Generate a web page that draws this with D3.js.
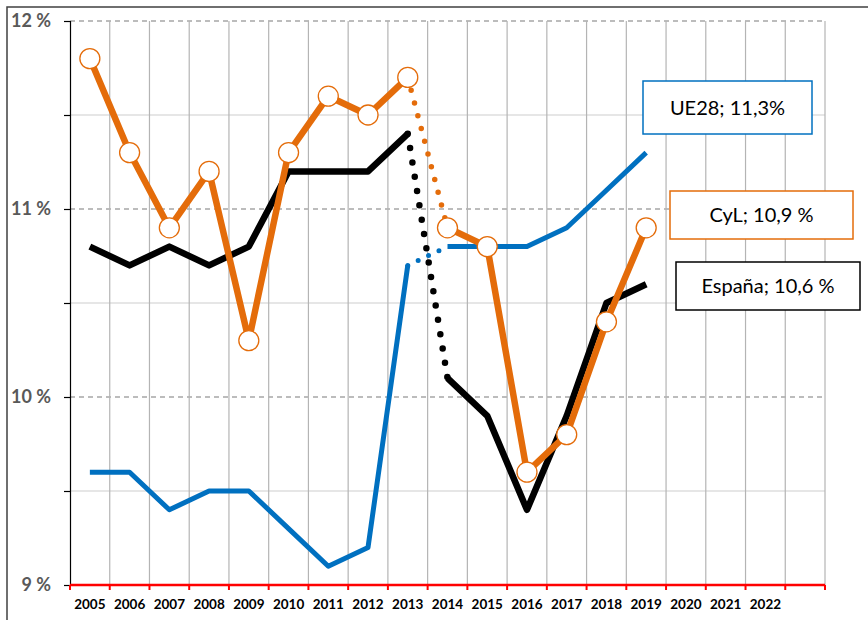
<!DOCTYPE html>
<html>
<head>
<meta charset="utf-8">
<script src="https://cdn.jsdelivr.net/npm/d3@7"></script>
<style>
  html, body { margin: 0; padding: 0; background: #fff; }
  svg { display: block; }
</style>
</head>
<body>
<div id="chart"></div>
<script>
var years = ["2005","2006","2007","2008","2009","2010","2011","2012","2013",
             "2014","2015","2016","2017","2018","2019","2020","2021","2022"];
var espana = [10.8,10.7,10.8,10.7,10.8,11.2,11.2,11.2,11.4,10.1,9.9,9.4,9.9,10.5,10.6];
var cyl    = [11.8,11.3,10.9,11.2,10.3,11.3,11.6,11.5,11.7,10.9,10.8,9.6,9.8,10.4,10.9];
var ue28   = [9.6,9.6,9.4,9.5,9.5,9.3,9.1,9.2,10.7,10.8,10.8,10.8,10.9,11.1,11.3];
var yTicks = [9,9.5,10,10.5,11,11.5,12];
var yLabels = {9:"9 %",10:"10 %",11:"11 %",12:"12 %"};
var breakAt = 8; // series change between 2013 and 2014
var legendText = ["UE28; 11,3%","CyL; 10,9 %","España; 10,6 %"];

var W = 868, H = 620;
var svg = d3.select("#chart").append("svg")
    .attr("width", W).attr("height", H);

// chart frame
svg.append("rect")
    .attr("x", 7).attr("y", 7).attr("width", 920).attr("height", 700)
    .attr("fill", "none").attr("stroke", "#404040").attr("stroke-width", 1.5);

var x = d3.scaleBand().domain(years.concat([""])).range([70, 825]).padding(0);
var y = d3.scaleLinear().domain([9, 12]).range([585, 21]);
var cx = function(i) { return x(years[i]) + x.bandwidth() / 2; };

// horizontal grid
svg.append("g").selectAll("line")
    .data(yTicks.filter(function(d) { return d > 9; }))
    .enter().append("line")
    .attr("x1", 70).attr("x2", 825)
    .attr("y1", function(d) { return y(d); })
    .attr("y2", function(d) { return y(d); })
    .attr("stroke", function(d) { return d % 1 === 0 ? "#a6a6a6" : "#dedede"; })
    .attr("stroke-width", 1.5)
    .attr("stroke-dasharray", function(d) { return d % 1 === 0 ? "5,4" : null; });

// vertical grid
var bounds = x.domain().map(function(d) { return x(d); }).concat([825]);
svg.append("g").selectAll("line")
    .data(bounds.slice(1))
    .enter().append("line")
    .attr("x1", function(d) { return d; }).attr("x2", function(d) { return d; })
    .attr("y1", 21).attr("y2", 585)
    .attr("stroke", "#b4b4b4").attr("stroke-width", 1.2);

// y axis
var yAxis = svg.append("g")
    .attr("transform", "translate(70,0)")
    .call(d3.axisLeft(y).tickValues(yTicks).tickSize(6).tickFormat(function(d) { return yLabels[d] || ""; }));
yAxis.select(".domain").attr("stroke", "#000").attr("stroke-width", 1.2);
yAxis.selectAll(".tick line").attr("stroke", "#000").attr("stroke-width", 1.2);
yAxis.selectAll(".tick text")
    .attr("x", -19)
    .style("font-family", "Lato, 'Open Sans', sans-serif")
    .style("font-weight", "bold")
    .style("font-size", "18px")
    .attr("fill", "#595959");

// x axis (red)
var xAxis = svg.append("g")
    .attr("transform", "translate(0,585)")
    .call(d3.axisBottom(x).tickSize(0).tickFormat(function(d) { return d; }));
xAxis.select(".domain").remove();
svg.append("line")
    .attr("x1", 70).attr("x2", 825).attr("y1", 585).attr("y2", 585)
    .attr("stroke", "#ff0000").attr("stroke-width", 2.5);
svg.append("g").selectAll("line")
    .data(bounds)
    .enter().append("line")
    .attr("x1", function(d) { return d; }).attr("x2", function(d) { return d; })
    .attr("y1", 585).attr("y2", 590)
    .attr("stroke", "#ff0000").attr("stroke-width", 2);
xAxis.selectAll(".tick text")
    .attr("y", 14)
    .style("font-family", "Lato, 'Open Sans', sans-serif")
    .style("font-weight", "bold")
    .style("font-size", "13.5px")
    .attr("fill", "#000");

// series
var series = [
  {values: ue28,   color: "#0070c0", width: 5,   dot: 5,   gap: 11.5},
  {values: espana, color: "#000000", width: 6.5, dot: 6.5, gap: 14.5},
  {values: cyl,    color: "#e46c0a", width: 6.5, dot: 5.5, gap: 13.2}
];
var line = d3.line()
    .x(function(d) { return cx(d.i); })
    .y(function(d) { return y(d.v); });

series.forEach(function(s) {
  var pts = s.values.map(function(v, i) { return {i: i, v: v}; });
  [pts.slice(0, breakAt + 1), pts.slice(breakAt + 1)].forEach(function(seg) {
    svg.append("path")
        .attr("d", line(seg))
        .attr("fill", "none")
        .attr("stroke", s.color)
        .attr("stroke-width", s.width)
        .attr("stroke-linejoin", "round");
  });
  svg.append("path")
      .attr("d", line(pts.slice(breakAt, breakAt + 2)))
      .attr("fill", "none")
      .attr("stroke", s.color)
      .attr("stroke-width", s.dot)
      .attr("stroke-linecap", "round")
      .attr("stroke-dasharray", "0," + s.gap);
});

// CyL markers
svg.append("g").selectAll("circle")
    .data(cyl)
    .enter().append("circle")
    .attr("cx", function(d, i) { return cx(i); })
    .attr("cy", function(d) { return y(d); })
    .attr("r", 10)
    .attr("fill", "#fff")
    .attr("stroke", "#e46c0a")
    .attr("stroke-width", 1.3);

// labels
var boxes = [
  {x: 643, y: 81,  w: 169, h: 53, color: "#0070c0"},
  {x: 670, y: 191, w: 183, h: 48, color: "#e46c0a"},
  {x: 676, y: 262, w: 184, h: 48, color: "#000000"}
];
var lab = svg.append("g").selectAll("g")
    .data(boxes)
    .enter().append("g");
lab.append("rect")
    .attr("x", function(d) { return d.x; })
    .attr("y", function(d) { return d.y; })
    .attr("width", function(d) { return d.w; })
    .attr("height", function(d) { return d.h; })
    .attr("fill", "#fff")
    .attr("stroke", function(d) { return d.color; })
    .attr("stroke-width", 1.5);
lab.append("text")
    .attr("x", function(d) { return d.x + d.w / 2; })
    .attr("y", function(d) { return d.y + d.h / 2; })
    .attr("dy", ".35em")
    .style("text-anchor", "middle")
    .style("font-family", "Lato, 'Open Sans', sans-serif")
    .style("font-size", "20px")
    .attr("fill", "#000")
    .text(function(d, i) { return legendText[i]; });
</script>
</body>
</html>
